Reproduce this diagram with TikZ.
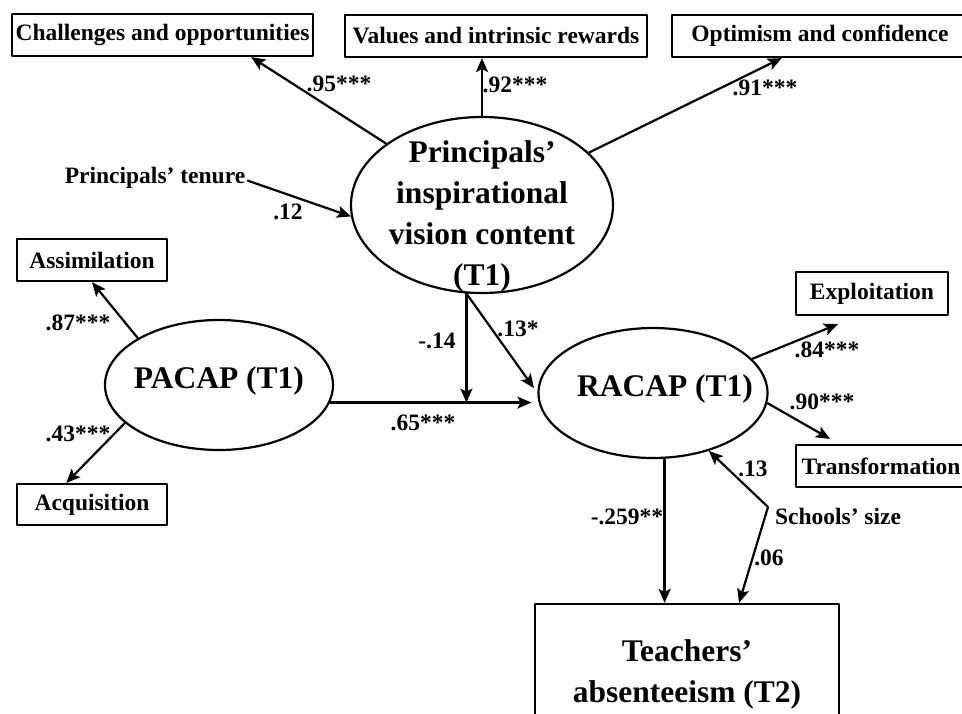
\documentclass[tikz,border=0pt]{standalone}
\usepackage{fontspec}
\setmainfont{Liberation Serif}
\usetikzlibrary{shapes.geometric,arrows.meta}
\begin{document}
\begin{tikzpicture}[x=1pt, y=-1pt, line width=2.2pt, line join=round, >={Stealth[length=14pt,width=12pt,inset=3pt]},
  small/.style={font=\fontsize{23.5}{28}\selectfont\bfseries, inner sep=1pt},
  big/.style={font=\fontsize{31.5}{41}\selectfont\bfseries, align=center},
  obs/.style={draw, small, inner sep=2pt},
  lv/.style={draw, ellipse, inner sep=0pt}]
 \useasboundingbox (0,0) rectangle (962,713);
 \clip (0,0) rectangle (962,713);
 \node[obs, minimum width=301pt, minimum height=42pt] (chal) at (162.5,35) {Challenges and opportunities};
 \node[obs, minimum width=302pt, minimum height=42pt] (vals) at (496,36) {Values and intrinsic rewards};
 \node[obs, minimum width=296pt, minimum height=42pt] (opt) at (820,36) {Optimism and confidence};
 \node[obs, minimum width=150pt, minimum height=42pt] (assim) at (92,260) {Assimilation};
 \node[obs, minimum width=150pt, minimum height=41pt] (acq) at (92,504.5) {Acquisition};
 \node[obs, minimum width=152pt, minimum height=43pt] (expl) at (872,293.5) {Exploitation};
 \node[obs, minimum width=170pt, minimum height=42pt] (trans) at (881,466) {Transformation};
 \node[draw, big, minimum width=304pt, minimum height=140pt] (teach) at (687,674) {Teachers’\\absenteeism (T2)};
 \node[lv, minimum width=262pt, minimum height=176pt,
   label={[big, name=pivtxt, yshift=-11pt]center:{Principals’\\inspirational\\vision content\\(T1)}}] (piv) at (482,205) {};
 \node[lv, minimum width=228pt, minimum height=130pt,
   label={[big, name=pacaptxt, yshift=4pt]center:PACAP (T1)}] (pacap) at (219,385) {};
 \node[lv, minimum width=229pt, minimum height=130pt,
   label={[big, name=racaptxt, xshift=12pt, yshift=4pt]center:RACAP (T1)}] (racap) at (653,393) {};
 \node[small] (tenure) at (155,177.5) {Principals’ tenure};
 \node[small] (size) at (838,516) {Schools’ size};
 \coordinate (sz) at (768,507);
 \coordinate (j) at (piv.260 |- pacap.-9);
 \draw[->] (piv) -- (chal.-14);
 \draw[->] (piv.north) -- (piv.north |- vals.south);
 \draw[->] (piv) -- (opt.-150);
 \draw[->] ([yshift=-3pt]tenure.east) -- (piv.185);
 \draw[->] (pacap.150) -- (assim.south);
 \draw[->] (pacap.202) -- (acq.140);
 \draw[->, shorten >=6pt] (pacap.-9) -- (pacap.-9 -| racap.west);
 \draw[->] (piv.260) -- (j);
 \draw[->, shorten >=6pt] (piv.260) -- (racap.west);
 \draw[->] (racap.19) -- ([xshift=-34pt,yshift=-8pt]expl.south);
 \draw[->] (racap.-5) -- ([xshift=-51pt,yshift=5pt]trans.north);
 \draw[->] (racap.280) -- (racap.280 |- teach.north);
 \draw[->] (sz) -- (racap.-46);
 \draw[->] (sz) -- ([xshift=52pt]teach.north);
 \foreach \n/\t/\p in {lchal/.95***/{(339,84)}, lvals/.92***/{(515,85)}, lopt/.91***/{(765,88)},
   lten/.12/{(288,212)}, lassim/.87***/{(78,323)}, lacq/.43***/{(78,434)}, lmod/-.14/{(437,341)},
   lpath/.65***/{(423,423)}, lvis/.13*/{(518,329)}, lexpl/.84***/{(827,350)}, ltrans/.90***/{(822,402)},
   lsz1/.13/{(753,469)}, labs/-.259**/{(627,517)}, lsz2/.06/{(769,558)}}
   \node[small] (\n) at \p {\t};
\end{tikzpicture}
\end{document}
